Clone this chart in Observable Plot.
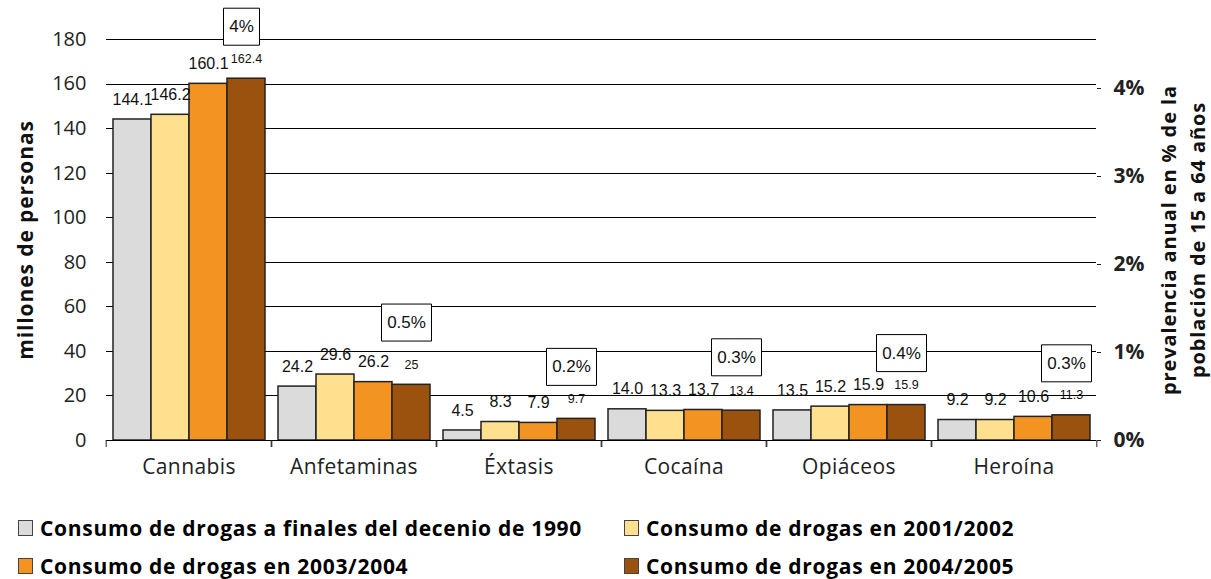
<!DOCTYPE html>
<html><head><meta charset="utf-8">
<script src="https://cdn.jsdelivr.net/npm/d3@7"></script>
<script src="https://cdn.jsdelivr.net/npm/@observablehq/plot@0.6"></script>
<style>
body{margin:0;background:#fff;}
#legend{font-family:"Open Sans";font-weight:bold;font-size:21px;letter-spacing:0.7px;color:#000;position:relative;height:84px;width:1211px}
.item{position:absolute;display:flex;align-items:center;white-space:nowrap;line-height:24px}
.sw{width:13px;height:14px;border:1.5px solid #444;margin-right:7px;box-sizing:content-box}
svg .wide text, svg text.wide, .wide{letter-spacing:0.9px}
svg .cat text{letter-spacing:0.4px}
svg g[aria-label="y-grid"] line, svg g[aria-label="rule"] line{shape-rendering:crispEdges}
</style></head><body><div id="chart"></div><div id="legend"></div>
<script>
const categories = ["Cannabis","Anfetaminas","Éxtasis","Cocaína","Opiáceos","Heroína"];
const series = ["Consumo de drogas a finales del decenio de 1990","Consumo de drogas en 2001/2002","Consumo de drogas en 2003/2004","Consumo de drogas en 2004/2005"];
const colors = ["#dbdbdb","#fee08f","#f39321","#9c520f"];
const late1990s = [144.1,24.2,4.5,14.0,13.5,9.2];
const y2001_2002 = [146.2,29.6,8.3,13.3,15.2,9.2];
const y2003_2004 = [160.1,26.2,7.9,13.7,15.9,10.6];
const y2004_2005 = [162.4,25,9.7,13.4,15.9,11.3];
const labels2004_2005 = ["162.4","25","9.7","13.4","15.9","11.3"];
const prevalence = ["4%","0.5%","0.2%","0.3%","0.4%","0.3%"];
const yTicks = [0,20,40,60,80,100,120,140,160,180];
const pctTicks = [0,1,2,3,4];
const unitsPerPct = 39.5; // millions of people per 1% prevalence (right axis)

const seriesValues = [late1990s, y2001_2002, y2003_2004, y2004_2005];
const fmt = d3.format(".1f");
const rows = categories.flatMap((c, i) => series.map((s, j) => ({
  category: c, series: s, value: seriesValues[j][i],
  label: j === 3 ? labels2004_2005[i] : fmt(seriesValues[j][i]),
  small: j === 3
})));
const boxes = categories.map((c, i) => ({
  category: c, series: series[3],
  top: d3.max(seriesValues, v => v[i]),
  text: prevalence[i]
}));

const boxSymbol = {
  draw(ctx, size) {
    const n = Math.sqrt(size / Math.PI);
    const w = 7 * n + 22, h = 37;
    ctx.moveTo(-w/2, -h/2); ctx.lineTo(w/2, -h/2); ctx.lineTo(w/2, h/2); ctx.lineTo(-w/2, h/2); ctx.closePath();
  }
};

const W = 1211, mL = 104, mR = 113;
const facetW = (W - mL - mR) / categories.length;

const chart = Plot.plot({
  width: W, height: 495, marginTop: 39, marginBottom: 55, marginLeft: mL, marginRight: mR,
  style: {fontFamily: "Open Sans", fontSize: "19px", color: "#222", overflow: "visible", background: "#fff"},
  fx: {domain: categories, padding: 0, label: null, axis: null},
  x: {domain: series, paddingInner: 0, paddingOuter: 0.15, axis: null},
  y: {domain: [0, 180], label: null, axis: null},
  r: {type: "identity"},
  color: {domain: series, range: colors},
  marks: [
    Plot.gridY(yTicks, {stroke: "#000", strokeOpacity: 1, strokeWidth: 1}),
    Plot.barY(rows, {fx: "category", x: "series", y: "value", fill: "series", stroke: "#222", strokeWidth: 1.5}),
    Plot.ruleY([0], {stroke: "#000", strokeWidth: 1.2}),
    Plot.text(rows, {filter: d => !d.small, fx: "category", x: "series", y: "value", text: "label", dy: -20, fontFamily: "Liberation Sans", fontSize: 16, fill: "#111"}),
    Plot.text(rows, {filter: d => d.small, fx: "category", x: "series", y: "value", text: "label", dy: -20, fontFamily: "Liberation Sans", fontSize: 12.5, fill: "#111"}),
    Plot.dot(boxes, {fx: "category", x: "series", y: "top", r: d => d.text.length, symbol: boxSymbol, fill: "white", stroke: "#000", strokeWidth: 1, dy: -52, dx: -5}),
    Plot.text(boxes, {fx: "category", x: "series", y: "top", text: "text", dy: -52, dx: -5, fontFamily: "Liberation Sans", fontSize: 17, fill: "#111"}),
    Plot.axisY(yTicks, {anchor: "left", tickSize: 0, tickPadding: 20, label: null, fontSize: 20}),
    Plot.axisY(pctTicks.map(p => p * unitsPerPct), {anchor: "right", tickSize: 4, tickPadding: 13, tickFormat: d => Math.round(d / unitsPerPct) + "%", fontWeight: "bold", fontSize: 21, label: null}),
    Plot.axisFx({anchor: "bottom", tickSize: 0, tickPadding: 19, label: null, fontSize: 21, className: "cat"}),
    Plot.axisFx({anchor: "bottom", tickSize: 7, tickFormat: () => "", label: null, dx: -facetW / 2}),
    Plot.axisFx([categories[categories.length - 1]], {anchor: "bottom", tickSize: 7, tickFormat: () => "", label: null, dx: facetW / 2}),
    Plot.text(["millones de personas"], {text: d => d, frameAnchor: "left", facetAnchor: "left", rotate: -90, textAnchor: "middle", lineAnchor: "middle", dx: -80, fontWeight: "bold", fontSize: 21, fill: "#111", className: "wide"}),
    Plot.text(["prevalencia anual en % de la\npoblación de 15 a 64 años"], {text: d => d, frameAnchor: "right", facetAnchor: "right", rotate: -90, textAnchor: "middle", lineAnchor: "middle", dx: 85, lineHeight: 1.45, fontWeight: "bold", fontSize: 20, fill: "#111", className: "wide"})
  ]
});
document.getElementById("chart").appendChild(chart);

const legend = document.getElementById("legend");
const pos = [[18, 33], [624, 33], [18, 71], [624, 71]];
series.forEach((s, j) => {
  const it = document.createElement("div");
  it.className = "item";
  it.style.left = pos[j][0] + "px";
  it.style.top = (pos[j][1] - 12) + "px";
  const sw = document.createElement("span");
  sw.className = "sw";
  sw.style.background = colors[j];
  const tx = document.createElement("span");
  tx.textContent = s;
  it.appendChild(sw); it.appendChild(tx);
  legend.appendChild(it);
});
</script></body></html>
